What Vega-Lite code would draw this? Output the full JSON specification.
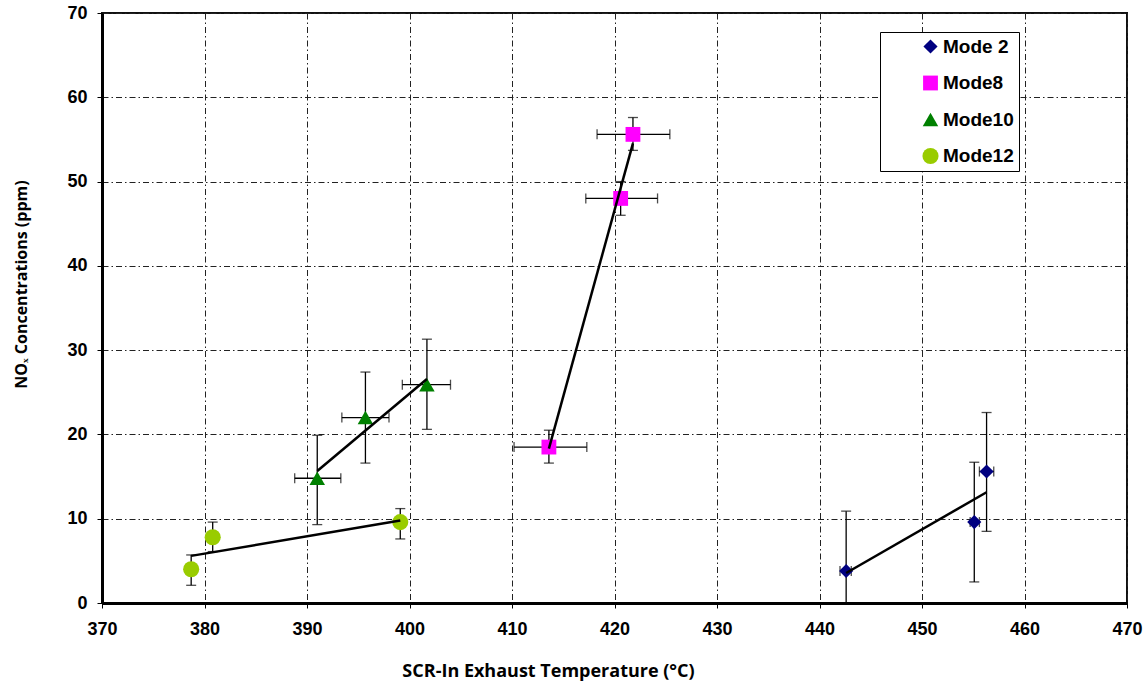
{
  "$schema": "https://vega.github.io/schema/vega-lite/v6.json",
  "autosize": {"type": "none"},
  "width": 1025,
  "height": 590,
  "padding": {"left": 102, "top": 13, "right": 21, "bottom": 82},
  "background": "white",
  "config": {
    "view": {"stroke": "#111111", "strokeWidth": 2},
    "axis": {
      "domainColor": "#000000",
      "domainWidth": 3,
      "tickColor": "#000000",
      "tickSize": 5,
      "tickWidth": 1,
      "labelFlush": false,
      "labelOverlap": false,
      "labelFont": "Liberation Sans",
      "labelFontWeight": "bold",
      "labelFontSize": 18,
      "labelColor": "#000000",
      "titleFont": "Open Sans",
      "titleFontWeight": "bold",
      "titleFontSize": 16,
      "titleColor": "#000000",
      "gridColor": "#222222",
      "gridWidth": 1,
      "gridDash": [6, 3, 1.5, 3],
      "gridOpacity": 1
    }
  },
  "data": {
    "values": [
      {"mode": "Mode 2", "x": 442.6, "y": 3.8, "xlo": 442.0, "xhi": 443.1, "ylo": -3.3, "yhi": 10.9},
      {"mode": "Mode 2", "x": 455.1, "y": 9.6, "xlo": 454.7, "xhi": 455.6, "ylo": 2.5, "yhi": 16.7},
      {"mode": "Mode 2", "x": 456.3, "y": 15.6, "xlo": 455.6, "xhi": 457.0, "ylo": 8.5, "yhi": 22.6},
      {"mode": "Mode8", "x": 413.6, "y": 18.5, "xlo": 410.2, "xhi": 417.3, "ylo": 16.6, "yhi": 20.5},
      {"mode": "Mode8", "x": 420.6, "y": 48.0, "xlo": 417.2, "xhi": 424.2, "ylo": 46.0, "yhi": 50.0},
      {"mode": "Mode8", "x": 421.8, "y": 55.6, "xlo": 418.3, "xhi": 425.4, "ylo": 53.7, "yhi": 57.6},
      {"mode": "Mode10", "x": 391.0, "y": 14.8, "xlo": 388.8, "xhi": 393.3, "ylo": 9.3, "yhi": 19.9},
      {"mode": "Mode10", "x": 395.7, "y": 22.0, "xlo": 393.4, "xhi": 398.0, "ylo": 16.6, "yhi": 27.4},
      {"mode": "Mode10", "x": 401.7, "y": 25.9, "xlo": 399.3, "xhi": 404.0, "ylo": 20.6, "yhi": 31.3},
      {"mode": "Mode12", "x": 378.7, "y": 4.0, "xlo": null, "xhi": null, "ylo": 2.1, "yhi": 5.7},
      {"mode": "Mode12", "x": 380.8, "y": 7.8, "xlo": null, "xhi": null, "ylo": 6.1, "yhi": 9.6},
      {"mode": "Mode12", "x": 399.1, "y": 9.6, "xlo": null, "xhi": null, "ylo": 7.6, "yhi": 11.2}
    ]
  },
  "encoding": {
    "x": {
      "field": "x", "type": "quantitative",
      "scale": {"domain": [370, 470], "nice": false, "zero": false},
      "axis": {
        "title": "SCR-In Exhaust Temperature (°C)",
        "values": [370, 380, 390, 400, 410, 420, 430, 440, 450, 460, 470],
        "labelPadding": 12,
        "titleFontSize": 18,
        "titleX": 446, "titleY": 68, "titleAnchor": "middle", "titleBaseline": "middle"
      }
    },
    "y": {
      "field": "y", "type": "quantitative",
      "scale": {"domain": [0, 70], "nice": false},
      "axis": {
        "title": "NOₓ Concentrations (ppm)",
        "values": [0, 10, 20, 30, 40, 50, 60, 70],
        "labelPadding": 10,
        "titleX": -81, "titleY": 271, "titleAngle": -90, "titleAnchor": "middle", "titleBaseline": "middle"
      }
    }
  },
  "layer": [
    {
      "mark": {"type": "errorbar", "ticks": {"size": 10, "color": "#000000", "thickness": 1.3}, "rule": {"color": "#000000", "strokeWidth": 1.3}, "clip": true},
      "encoding": {
        "x": {"field": "x", "type": "quantitative"},
        "y": {"field": "ylo", "type": "quantitative"},
        "y2": {"field": "yhi"}
      }
    },
    {
      "transform": [{"filter": "isValid(datum.xlo)"}],
      "mark": {"type": "errorbar", "ticks": {"size": 10, "color": "#000000", "thickness": 1.3}, "rule": {"color": "#000000", "strokeWidth": 1.3}},
      "encoding": {
        "x": {"field": "xlo", "type": "quantitative"},
        "x2": {"field": "xhi"},
        "y": {"field": "y", "type": "quantitative"}
      }
    },
    {
      "mark": {"type": "point", "filled": true, "opacity": 1, "strokeWidth": 0},
      "encoding": {
        "color": {
          "field": "mode", "type": "nominal",
          "scale": {"domain": ["Mode 2", "Mode8", "Mode10", "Mode12"], "range": ["#000080", "#FF00FF", "#008000", "#99CC00"]},
          "legend": {
            "title": null,
            "orient": "none",
            "legendX": 778,
            "legendY": 19,
            "direction": "vertical",
            "fillColor": "white",
            "strokeColor": "#000000",
            "padding": 5,
            "symbolOffset": 36,
            "symbolSize": 200,
            "symbolStrokeWidth": 0,
            "labelFont": "Liberation Sans",
            "labelFontWeight": "bold",
            "labelFontSize": 19,
            "labelColor": "#000000",
            "labelOffset": 3,
            "rowPadding": 16.5
          }
        },
        "shape": {
          "field": "mode", "type": "nominal",
          "scale": {"domain": ["Mode 2", "Mode8", "Mode10", "Mode12"], "range": ["diamond", "square", "triangle-up", "circle"]}
        },
        "size": {
          "field": "mode", "type": "nominal", "legend": null,
          "scale": {"domain": ["Mode 2", "Mode8", "Mode10", "Mode12"], "range": [200, 260, 260, 230]}
        }
      }
    },
    {
      "transform": [{"regression": "y", "on": "x", "groupby": ["mode"]}],
      "mark": {"type": "line", "color": "#000000", "strokeWidth": 2.5},
      "encoding": {
        "x": {"field": "x", "type": "quantitative"},
        "y": {"field": "y", "type": "quantitative"},
        "detail": {"field": "mode", "type": "nominal"}
      }
    }
  ]
}
